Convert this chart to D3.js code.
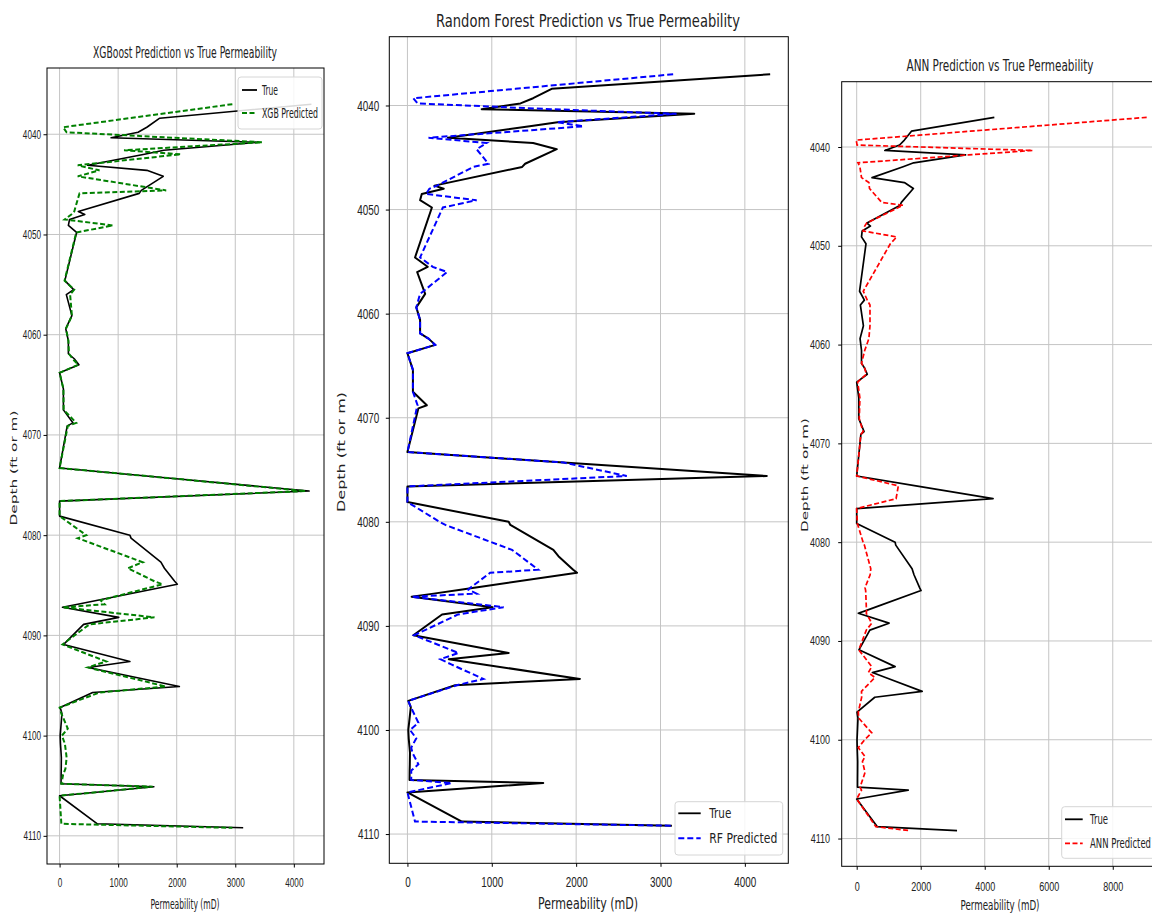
<!DOCTYPE html>
<html lang="en">
<head>
  <meta charset="UTF-8">
  <title>Permeability: XGBoost, Random Forest and ANN vs True</title>
  <style>
    body { margin: 0; background: #fff; overflow: hidden; }
    svg { display: block; font-family: "DejaVu Sans", sans-serif; }
  </style>
</head>
<body>
  <div id="chart"></div>
  <script src="https://d3js.org/d3.v7.min.js"></script>
  <script>

    // depth samples (ft or m) shared by every series
    const depth = [
      4037.0, 4038.4, 4039.3, 4039.8, 4040.35, 4040.8, 4041.6, 4042.0, 4043.1, 4043.6,
      4044.2, 4045.6, 4045.9, 4047.7, 4048.0, 4048.5, 4049.1, 4049.8, 4054.6, 4055.5,
      4056.0, 4058.1, 4059.4, 4060.6, 4061.9, 4062.4, 4063.0, 4063.8, 4065.4, 4067.5,
      4068.8, 4069.1, 4073.3, 4074.3, 4075.6, 4076.6, 4078.1, 4080.0, 4080.3, 4082.7,
      4083.3, 4084.6, 4084.9, 4086.5, 4086.9, 4087.2, 4088.2, 4088.9, 4090.9, 4092.6,
      4093.2, 4093.7, 4095.1, 4095.7, 4097.2, 4097.8, 4099.3, 4100.0, 4100.8, 4101.7,
      4102.2, 4103.3, 4103.9, 4104.8, 4105.1, 4106.0, 4108.8, 4109.2
    ];

    // permeability (mD)
    const trueK = [
      4300, 1710, 1490, 1340, 880, 3400, 1780, 1450, 480, 1490,
      1770, 1395, 1360, 320, 430, 170, 150, 290, 90, 240,
      115, 210, 105, 150, 150, 250, 330, 0, 65, 65,
      230, 130, 0, 1850, 4260, 0, 0, 1200, 1220, 1730,
      1790, 1965, 2010, 650, 310, 50, 1010, 410, 70, 1200,
      490, 900, 2045, 565, 10, 40, 20, 10, 15, 25,
      30, 28, 26, 25, 1610, 0, 645, 3135
    ];

    const xgbK = [
      2950, 1190, 60, 120, 1950, 3460, 1100, 2070, 310, 680,
      310, 1820, 340, 250, 200, 85, 910, 285, 85, 250,
      180, 210, 110, 150, 160, 220, 320, 0, 65, 70,
      285, 140, 0, 1850, 4200, 0, 0, 455, 310, 1420,
      1165, 1620, 1760, 700, 770, 50, 1620, 510, 50, 795,
      480, 830, 1815, 680, 0, 30, 140, 40, 90, 110,
      120, 100, 60, 30, 1590, 0, 30, 2950
    ];

    const rfK = [
      3150, 1280, 70, 120, 1700, 3190, 1770, 2085, 250, 940,
      820, 960, 780, 350, 260, 220, 820, 420, 150, 300,
      470, 150, 105, 150, 150, 250, 330, 0, 65, 65,
      120, 110, 0, 1850, 2600, 0, 0, 380, 450, 1240,
      1340, 1550, 980, 720, 820, 50, 1140, 600, 80, 605,
      390, 520, 900, 585, 10, 40, 130, 30, 105, 45,
      60, 130, 45, 45, 525, 0, 90, 3135
    ];

    const annK = [
      9060, 3550, -15, 10, 5500, 3500, 40, 100, 150, 380,
      400, 780, 1450, 310, 250, 200, 1250, 1050, 205, 330,
      415, 415, 380, 250, 150, 250, 300, 30, 100, 80,
      200, 130, 0, 1300, 1230, 0, 20, 200, 240, 440,
      420, 260, 280, 300, 310, 300, 470, 300, 65, 470,
      365, 570, 150, 155, 50, 60, 470, 250, 50, 260,
      180, 260, 200, 105, 150, 0, 600, 1665
    ];

    const depthTicks = [4040, 4050, 4060, 4070, 4080, 4090, 4100, 4110];
    const permTicksSmall = [0, 1000, 2000, 3000, 4000];
    const permTicksWide = [0, 2000, 4000, 6000, 8000];

    const width = 1152,
          height = 915;

    const svg = d3.select("#chart")
      .append("svg")
      .attr("width", width)
      .attr("height", height);

    const panels = [
      {
        title: "XGBoost Prediction vs True Permeability", predLabel: "XGB Predicted",
        pred: xgbK, color: "#008000", dash: "5,2.5", predWidth: 2, trueWidth: 1.6, ticks: permTicksSmall,
        left: 47, top: 68, w: 277, bottom: 864,
        titleX: 185, titleY: 58, titleSize: 15.5, titleW: 184,
        xlabY: 909, xlabSize: 14, xlabW: 69,
        ylabX: 14, ylabY: 468, ylabSize: 15, ylabW: 115, ylabK: 0.6,
        tickSize: 12, tickSqueeze: 0.68, xTickY: 22.7, yTickPad: 6,
        legend: {x: 238, y: 77, w: 84, h: 52, rows: [90, 113], l0: 242, l1: 257, tx: 262, size: 14, widths: [16, 56]}
      },
      {
        title: "Random Forest Prediction vs True Permeability", predLabel: "RF Predicted",
        pred: rfK, color: "#0000ff", dash: "6,3", predWidth: 2, trueWidth: 2, ticks: permTicksSmall,
        left: 389.3, top: 36.7, w: 399, bottom: 863.3,
        titleX: 588, titleY: 27, titleSize: 18, titleW: 304,
        xlabY: 909, xlabSize: 16, xlabW: 100,
        ylabX: 342, ylabY: 452, ylabSize: 15.5, ylabW: 120, ylabK: 0.65,
        tickSize: 15, tickSqueeze: 0.66, xTickY: 23.4, yTickPad: 10,
        legend: {x: 675, y: 801.7, w: 107.7, h: 53.3, rows: [813.3, 838.3], l0: 678.3, l1: 700.7, tx: 709.3, size: 14.5, widths: [22, 68]}
      },
      {
        title: "ANN Prediction vs True Permeability", predLabel: "ANN Predicted",
        pred: annK, color: "#ff0000", dash: "5,2.5", predWidth: 1.7, trueWidth: 1.7, ticks: permTicksWide,
        left: 841.7, top: 81.7, w: 319.5, bottom: 866.3,
        titleX: 1000, titleY: 70.7, titleSize: 16, titleW: 187,
        xlabY: 910, xlabSize: 14.5, xlabW: 79,
        ylabX: 805, ylabY: 475, ylabSize: 15, ylabW: 114, ylabK: 0.6,
        tickSize: 12.5, tickSqueeze: 0.72, xTickY: 24.4, yTickPad: 11.7,
        legend: {x: 1061.7, y: 806.7, w: 95, h: 51.6, rows: [819.3, 843.3], l0: 1065, l1: 1082.7, tx: 1090, size: 14, widths: [18, 61]}
      }
    ];

    // matplotlib-style 5% margins around the data
    function padded(vals) {
      const [lo, hi] = d3.extent(vals);
      const m = (hi - lo) * 0.05;
      return [lo - m, hi + m];
    }

    function squeeze(sel, w) {
      return sel.attr("textLength", w).attr("lengthAdjust", "spacingAndGlyphs");
    }

    const yDomain = padded(depth);

    panels.forEach(p => {
      const g = svg.append("g");

      const x = d3.scaleLinear(padded(trueK.concat(p.pred)), [p.left, p.left + p.w]);
      const y = d3.scaleLinear(yDomain, [p.top, p.bottom]);

      // grid
      g.append("g")
        .selectAll("line")
        .data(p.ticks)
        .join("line")
        .attr("x1", d => x(d)).attr("x2", d => x(d))
        .attr("y1", p.top).attr("y2", p.bottom)
        .attr("stroke", "#c4c4c4").attr("stroke-width", 1);

      g.append("g")
        .selectAll("line")
        .data(depthTicks)
        .join("line")
        .attr("x1", p.left).attr("x2", p.left + p.w)
        .attr("y1", d => y(d)).attr("y2", d => y(d))
        .attr("stroke", "#c4c4c4").attr("stroke-width", 1);

      // curves
      const pts = k => depth.map((d, i) => [k[i], d]);
      const line = d3.line().x(d => x(d[0])).y(d => y(d[1]));

      g.append("path")
        .attr("d", line(pts(trueK)))
        .attr("fill", "none")
        .attr("stroke", "#000")
        .attr("stroke-width", p.trueWidth)
        .attr("stroke-linejoin", "round");

      g.append("path")
        .attr("d", line(pts(p.pred)))
        .attr("fill", "none")
        .attr("stroke", p.color)
        .attr("stroke-width", p.predWidth)
        .attr("stroke-dasharray", p.dash);

      // frame
      g.append("rect")
        .attr("x", p.left).attr("y", p.top)
        .attr("width", p.w).attr("height", p.bottom - p.top)
        .attr("fill", "none").attr("stroke", "#000").attr("stroke-width", 1);

      // axes
      const xa = g.append("g")
        .attr("transform", `translate(0,${p.bottom})`)
        .call(d3.axisBottom(x).tickValues(p.ticks).tickFormat(d3.format("d")).tickSize(3.5).tickSizeOuter(0));
      xa.select(".domain").remove();
      xa.selectAll("text")
        .attr("y", p.xTickY).attr("dy", 0)
        .attr("font-size", p.tickSize).attr("fill", "#222")
        .each(function() {
          squeeze(d3.select(this), this.getComputedTextLength() * p.tickSqueeze);
        });

      const ya = g.append("g")
        .attr("transform", `translate(${p.left},0)`)
        .call(d3.axisLeft(y).tickValues(depthTicks).tickFormat(d3.format("d")).tickSize(3.5).tickSizeOuter(0));
      ya.select(".domain").remove();
      ya.selectAll("text")
        .attr("x", -p.yTickPad)
        .attr("font-size", p.tickSize).attr("fill", "#222")
        .each(function() {
          squeeze(d3.select(this), this.getComputedTextLength() * p.tickSqueeze);
        });

      // title and labels
      squeeze(g.append("text")
        .attr("x", p.titleX).attr("y", p.titleY)
        .attr("text-anchor", "middle")
        .attr("font-size", p.titleSize).attr("fill", "#222")
        .text(p.title), p.titleW);

      squeeze(g.append("text")
        .attr("x", p.titleX).attr("y", p.xlabY)
        .attr("text-anchor", "middle")
        .attr("font-size", p.xlabSize).attr("fill", "#222")
        .text("Permeability (mD)"), p.xlabW);

      squeeze(g.append("text")
        .attr("transform", `translate(${p.ylabX},${p.ylabY}) rotate(-90) scale(1,${p.ylabK})`)
        .attr("text-anchor", "middle")
        .attr("dominant-baseline", "central")
        .attr("font-size", p.ylabSize).attr("fill", "#222")
        .text("Depth (ft or m)"), p.ylabW);

      // legend
      const L = p.legend;
      g.append("rect")
        .attr("x", L.x).attr("y", L.y).attr("width", L.w).attr("height", L.h)
        .attr("rx", 3)
        .attr("fill", "#fff").attr("fill-opacity", 0.85)
        .attr("stroke", "#d6d6d6");

      const items = [
        {label: "True", color: "#000", dash: null, sw: 1.8},
        {label: p.predLabel, color: p.color, dash: p.dash, sw: p.predWidth}
      ];

      items.forEach((it, i) => {
        g.append("line")
          .attr("x1", L.l0).attr("x2", L.l1)
          .attr("y1", L.rows[i]).attr("y2", L.rows[i])
          .attr("stroke", it.color).attr("stroke-width", it.sw)
          .attr("stroke-dasharray", it.dash);
        squeeze(g.append("text")
          .attr("x", L.tx).attr("y", L.rows[i])
          .attr("dominant-baseline", "central")
          .attr("font-size", L.size).attr("fill", "#222")
          .text(it.label), L.widths[i]);
      });
    });

  </script>
</body>
</html>
